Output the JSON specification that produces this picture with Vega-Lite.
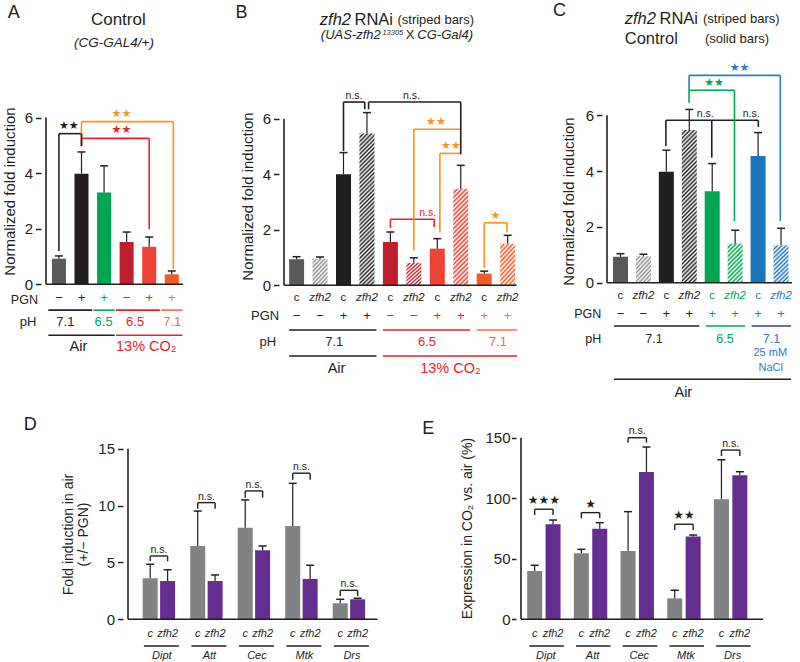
{
"$schema": "https://vega.github.io/schema/vega-lite/v6.json",
"background": "white",
"padding": {"left": 2, "top": 1, "right": 0, "bottom": 0},
"config": {"font": "Liberation Sans", "view": {"stroke": null}},
"datasets": {
"A_bars": [
{"i":1,"cond":"air_nopgn","mean":0.92,"hi":1.02,"pgn":"−"},
{"i":2,"cond":"air","mean":3.98,"hi":4.76,"pgn":"+"},
{"i":3,"cond":"ph65","mean":3.30,"hi":4.26,"pgn":"+"},
{"i":4,"cond":"co2_nopgn","mean":1.52,"hi":1.88,"pgn":"−"},
{"i":5,"cond":"co2","mean":1.35,"hi":1.70,"pgn":"+"},
{"i":6,"cond":"co2ph71","mean":0.36,"hi":0.48,"pgn":"+"}],
"A_h": [
{"a":2,"b":6.07,"y":5.85,"cond":"cmp"},
{"a":2,"b":5,"y":5.25,"cond":"co2"},
{"a":1,"b":2,"y":5.42,"cond":"air"}],
"A_v": [
{"x":2,"lo":5.25,"hi":5.85,"cond":"cmp"},
{"x":6.07,"lo":0.55,"hi":5.85,"cond":"cmp"},
{"x":2,"lo":4.97,"hi":5.25,"cond":"co2"},
{"x":5,"lo":1.98,"hi":5.25,"cond":"co2"},
{"x":1,"lo":1.2,"hi":5.42,"cond":"air"},
{"x":2,"lo":4.97,"hi":5.42,"cond":"air"}],
"A_lab": [
{"lx":1.437,"ly":5.42,"lab":"★★","cond":"air"},
{"lx":3.767,"ly":5.25,"lab":"★★","cond":"co2"},
{"lx":3.767,"ly":5.85,"lab":"★★","cond":"cmp"}],
"A_sp": [
{"a":1,"b":2,"lvl":1,"cond":"air"},{"a":3,"b":3,"lvl":1,"cond":"ph65"},{"a":4,"b":5,"lvl":1,"cond":"co2"},{"a":6,"b":6,"lvl":1,"cond":"co2ph71"},
{"a":1,"b":3,"lvl":2,"cond":"air"},{"a":4,"b":6,"lvl":2,"cond":"co2"}],
"A_ph": [{"lx":1.284,"lab":"7.1","cond":"air"},{"lx":2.98,"lab":"6.5","cond":"ph65"},{"lx":4.374,"lab":"6.5","cond":"co2"},{"lx":6.02,"lab":"7.1","cond":"co2ph71"}],
"A_env": [{"lx":1.862,"lab":"Air","cond":"air"},{"lx":4.87,"lab":"13% CO₂","cond":"co2"}],
"B_bars": [
{"i":1,"cond":"air_nopgn","geno":"c","mean":0.94,"hi":1.03,"pgn":"−"},
{"i":2,"cond":"air_nopgn","geno":"zfh2","mean":0.95,"hi":1.02,"pgn":"−"},
{"i":3,"cond":"air","geno":"c","mean":4.00,"hi":4.78,"pgn":"+"},
{"i":4,"cond":"air","geno":"zfh2","mean":5.47,"hi":6.22,"pgn":"+"},
{"i":5,"cond":"co2_nopgn","geno":"c","mean":1.56,"hi":1.92,"pgn":"−"},
{"i":6,"cond":"co2_nopgn","geno":"zfh2","mean":0.81,"hi":0.99,"pgn":"−"},
{"i":7,"cond":"co2","geno":"c","mean":1.32,"hi":1.68,"pgn":"+"},
{"i":8,"cond":"co2","geno":"zfh2","mean":3.48,"hi":4.32,"pgn":"+"},
{"i":9,"cond":"co2ph71","geno":"c","mean":0.42,"hi":0.51,"pgn":"+"},
{"i":10,"cond":"co2ph71","geno":"zfh2","mean":1.50,"hi":1.80,"pgn":"+"}],
"B_h": [
{"a":3,"b":3.905,"y":6.6,"cond":"air"},
{"a":4.07,"b":8,"y":6.6,"cond":"air"},
{"a":6,"b":8,"y":5.62,"cond":"cmp"},
{"a":7.11,"b":8,"y":4.75,"cond":"cmp"},
{"a":5,"b":6.87,"y":2.38,"cond":"co2"},
{"a":9,"b":9.97,"y":2.25,"cond":"cmp"}],
"B_v": [
{"x":6,"lo":1.24,"hi":5.62,"cond":"cmp"},
{"x":7.11,"lo":1.9,"hi":4.75,"cond":"cmp"},
{"x":9,"lo":0.63,"hi":2.25,"cond":"cmp"},
{"x":9.97,"lo":1.9,"hi":2.25,"cond":"cmp"},
{"x":5,"lo":2.07,"hi":2.38,"cond":"co2"},
{"x":6.87,"lo":2.1,"hi":2.38,"cond":"co2"},
{"x":3,"lo":4.84,"hi":6.6,"cond":"air"},
{"x":3.905,"lo":6.34,"hi":6.6,"cond":"air"},
{"x":4.07,"lo":6.34,"hi":6.6,"cond":"air"},
{"x":8,"lo":4.72,"hi":6.6,"cond":"air"}],
"B_lab": [
{"lx":3.45,"ly":6.6,"lab":"n.s.","cond":"air"},
{"lx":5.9,"ly":6.6,"lab":"n.s.","cond":"air"},
{"lx":6.94,"ly":5.62,"lab":"★★","cond":"cmp"},
{"lx":7.58,"ly":4.75,"lab":"★★","cond":"cmp"},
{"lx":6.59,"ly":2.38,"lab":"n.s.","cond":"co2"},
{"lx":9.48,"ly":2.25,"lab":"★","cond":"cmp"}],
"B_sp": [
{"a":1,"b":4,"lvl":1,"cond":"air"},{"a":5,"b":8,"lvl":1,"cond":"co2"},{"a":9,"b":10,"lvl":1,"cond":"co2ph71"},
{"a":1,"b":4,"lvl":2,"cond":"air"},{"a":5,"b":10,"lvl":2,"cond":"co2"}],
"B_ph": [{"lx":2.603,"lab":"7.1","cond":"air"},{"lx":6.558,"lab":"6.5","cond":"co2"},{"lx":9.587,"lab":"7.1","cond":"co2ph71"}],
"B_env": [{"lx":2.702,"lab":"Air","cond":"air"},{"lx":7.558,"lab":"13% CO₂","cond":"co2"}],
"C_bars": [
{"i":1,"cond":"air_nopgn","geno":"c","mean":0.93,"hi":1.04,"pgn":"−"},
{"i":2,"cond":"air_nopgn","geno":"zfh2","mean":0.95,"hi":1.02,"pgn":"−"},
{"i":3,"cond":"air","geno":"c","mean":3.98,"hi":4.75,"pgn":"+"},
{"i":4,"cond":"air","geno":"zfh2","mean":5.47,"hi":6.21,"pgn":"+"},
{"i":5,"cond":"ph65","geno":"c","mean":3.28,"hi":4.27,"pgn":"+"},
{"i":6,"cond":"ph65","geno":"zfh2","mean":1.40,"hi":1.88,"pgn":"+"},
{"i":7,"cond":"nacl","geno":"c","mean":4.54,"hi":5.38,"pgn":"+"},
{"i":8,"cond":"nacl","geno":"zfh2","mean":1.34,"hi":1.95,"pgn":"+"}],
"C_h": [
{"a":3.99,"b":7.97,"y":7.43,"cond":"nacl"},
{"a":3.99,"b":5.97,"y":6.9,"cond":"ph65"},
{"a":2.98,"b":7.01,"y":5.82,"cond":"air"}],
"C_v": [
{"x":3.99,"lo":6.9,"hi":7.43,"cond":"nacl"},
{"x":7.97,"lo":2.21,"hi":7.43,"cond":"nacl"},
{"x":3.99,"lo":6.45,"hi":6.9,"cond":"ph65"},
{"x":5.97,"lo":2.21,"hi":6.9,"cond":"ph65"},
{"x":2.98,"lo":4.9,"hi":5.82,"cond":"air"},
{"x":4.98,"lo":4.48,"hi":5.82,"cond":"air"},
{"x":7.01,"lo":5.58,"hi":5.82,"cond":"air"}],
"C_lab": [
{"lx":4.70,"ly":5.82,"lab":"n.s.","cond":"air"},
{"lx":6.70,"ly":5.82,"lab":"n.s.","cond":"air"},
{"lx":5.08,"ly":6.9,"lab":"★★","cond":"ph65"},
{"lx":6.19,"ly":7.43,"lab":"★★","cond":"nacl"}],
"C_sp": [
{"a":1,"b":4,"lvl":1,"cond":"air"},{"a":5,"b":6,"lvl":1,"cond":"ph65"},{"a":7,"b":8,"lvl":1,"cond":"naclbar"},
{"a":1,"b":8,"lvl":2,"cond":"air"}],
"C_ph": [{"lx":2.461,"lab":"7.1","cond":"air"},{"lx":5.553,"lab":"6.5","cond":"ph65"},{"lx":7.585,"lab":"7.1","cond":"nacl"}],
"D_bars": [
{"g":1,"gene":"Dipt","geno":"c","mean":3.61,"hi":4.84},
{"g":1,"gene":"Dipt","geno":"zfh2","mean":3.37,"hi":4.36},
{"g":2,"gene":"Att","geno":"c","mean":6.45,"hi":9.52},
{"g":2,"gene":"Att","geno":"zfh2","mean":3.37,"hi":3.9},
{"g":3,"gene":"Cec","geno":"c","mean":8.06,"hi":10.5},
{"g":3,"gene":"Cec","geno":"zfh2","mean":6.07,"hi":6.45},
{"g":4,"gene":"Mtk","geno":"c","mean":8.2,"hi":11.96},
{"g":4,"gene":"Mtk","geno":"zfh2","mean":3.55,"hi":4.75},
{"g":5,"gene":"Drs","geno":"c","mean":1.41,"hi":1.76},
{"g":5,"gene":"Drs","geno":"zfh2","mean":1.76,"hi":1.85}],
"D_sig": [
{"g":1,"y":5.57,"lo":5.1,"lab":"n.s."},
{"g":2,"y":10.26,"lo":9.73,"lab":"n.s."},
{"g":3,"y":11.29,"lo":10.7,"lab":"n.s."},
{"g":4,"y":12.85,"lo":12.27,"lab":"n.s."},
{"g":5,"y":2.55,"lo":2.05,"lab":"n.s."}],
"E_bars": [
{"g":1,"gene":"Dipt","geno":"c","mean":39.9,"hi":44.6},
{"g":1,"gene":"Dipt","geno":"zfh2","mean":78.5,"hi":82.0},
{"g":2,"gene":"Att","geno":"c","mean":54.5,"hi":57.8},
{"g":2,"gene":"Att","geno":"zfh2","mean":74.8,"hi":79.8},
{"g":3,"gene":"Cec","geno":"c","mean":56.4,"hi":88.9},
{"g":3,"gene":"Cec","geno":"zfh2","mean":121.7,"hi":142.3},
{"g":4,"gene":"Mtk","geno":"c","mean":17.3,"hi":24.0},
{"g":4,"gene":"Mtk","geno":"zfh2","mean":68.3,"hi":69.6},
{"g":5,"gene":"Drs","geno":"c","mean":99.1,"hi":131.8},
{"g":5,"gene":"Drs","geno":"zfh2","mean":118.9,"hi":121.9}],
"E_sig": [
{"g":1,"y":90.9,"lo":86.1,"lab":"★★★"},
{"g":2,"y":88.1,"lo":83.4,"lab":"★"},
{"g":3,"y":150,"lo":145.9,"lab":"n.s."},
{"g":4,"y":78.5,"lo":73.8,"lab":"★★"},
{"g":5,"y":139.8,"lo":134.9,"lab":"n.s."}]
},
"spacing": 320,
"bounds": "flush",
"vconcat": [
{"spacing": 0, "bounds": "flush", "hconcat": [
{"width": 238, "height": 180, "layer": [
{"data":{"name":"A_bars"},"mark":{"type":"bar","width":14},"encoding":{
"x":{"field":"i","type":"quantitative","scale":{"domain":[0.427,10.529],"nice":false,"zero":false},"axis":null},
"y":{"field":"mean","type":"quantitative","scale":{"domain":[-0.241,6.234],"nice":false,"zero":false},"axis":{"values":[0,2,4,6],"title":"Normalized fold induction","domain":false,"grid":false,"tickSize":5.5,"tickWidth":1.5,"tickColor":"#231f20","labelFontSize":15,"labelPadding":3,"labelColor":"#231f20","titleFontSize":15,"titleFontWeight":"normal","titleColor":"#231f20","titlePadding":7,"titleY":80}},
"y2":{"datum":0},
"fill":{"field":"cond","type":"nominal","scale":{"domain":["air_nopgn","air","ph65","co2_nopgn","co2","co2ph71","nacl"],"range":["#58595b","#231f20","#00a651","#be1e2d","#ef4136","#f15a29","#1c75bc"]},"legend":null}}},
{"data":{"name":"A_bars"},"mark":{"type":"rule","color":"#231f20","strokeWidth":1.2},"encoding":{"x":{"field":"i","type":"quantitative","axis":null},"y":{"field":"mean","type":"quantitative"},"y2":{"field":"hi"}}},
{"data":{"name":"A_bars"},"mark":{"type":"rule","color":"#231f20","strokeWidth":1.5,"xOffset":-4,"x2Offset":4},"encoding":{"x":{"field":"i","type":"quantitative","axis":null},"x2":{"field":"i"},"y":{"field":"hi","type":"quantitative"}}},
{"data":{"name":"A_h"},"mark":{"type":"rule","strokeWidth":1.6},"encoding":{"x":{"field":"a","type":"quantitative","axis":null},"x2":{"field":"b"},"y":{"field":"y","type":"quantitative"},"color":{"field":"cond","type":"nominal","scale":{"domain":["air_nopgn","air","ph65","co2_nopgn","co2","co2ph71","nacl","naclbar","cmp"],"range":["#231f20","#231f20","#00a651","#e2232e","#e2232e","#f26c4f","#2b7bc0","#3d3f98","#f7941d"]},"legend":null}}},
{"data":{"name":"A_v"},"mark":{"type":"rule","strokeWidth":1.6},"encoding":{"x":{"field":"x","type":"quantitative","axis":null},"y":{"field":"lo","type":"quantitative"},"y2":{"field":"hi"},"color":{"field":"cond","type":"nominal","legend":null}}},
{"data":{"name":"A_lab"},"mark":{"type":"text","font":"DejaVu Sans","fontSize":11,"baseline":"middle","dy":-8},"encoding":{"x":{"field":"lx","type":"quantitative","axis":null},"y":{"field":"ly","type":"quantitative"},"text":{"field":"lab"},"color":{"field":"cond","type":"nominal","legend":null}}},
{"data":{"name":"A_bars"},"mark":{"type":"text","fontSize":13,"baseline":"middle"},"encoding":{"x":{"field":"i","type":"quantitative","axis":null},"y":{"datum":-0.48,"type":"quantitative"},"text":{"field":"pgn"},"color":{"field":"cond","type":"nominal","legend":null}}},
{"data":{"name":"A_sp"},"transform":[{"filter":"datum.lvl==1"}],"mark":{"type":"rule","strokeWidth":1.6,"xOffset":-10.6,"x2Offset":10.6},"encoding":{"x":{"field":"a","type":"quantitative","axis":null},"x2":{"field":"b"},"y":{"datum":-0.93,"type":"quantitative"},"color":{"field":"cond","type":"nominal","legend":null}}},
{"data":{"name":"A_sp"},"transform":[{"filter":"datum.lvl==2"}],"mark":{"type":"rule","strokeWidth":1.6,"xOffset":-10.6,"x2Offset":10.6},"encoding":{"x":{"field":"a","type":"quantitative","axis":null},"x2":{"field":"b"},"y":{"datum":-1.835,"type":"quantitative"},"color":{"field":"cond","type":"nominal","legend":null}}},
{"data":{"name":"A_ph"},"mark":{"type":"text","fontSize":13,"baseline":"middle"},"encoding":{"x":{"field":"lx","type":"quantitative","axis":null},"y":{"datum":-1.36,"type":"quantitative"},"text":{"field":"lab"},"color":{"field":"cond","type":"nominal","legend":null}}},
{"data":{"name":"A_env"},"mark":{"type":"text","fontSize":14.5,"baseline":"middle"},"encoding":{"x":{"field":"lx","type":"quantitative","axis":null},"y":{"datum":-2.255,"type":"quantitative"},"text":{"field":"lab"},"color":{"field":"cond","type":"nominal","legend":null}}},
{"data":{"values":[{}]},"mark":{"type":"text","fontSize":12.5,"align":"right","baseline":"middle","color":"#231f20"},"encoding":{"x":{"datum":0.07,"type":"quantitative","axis":null},"y":{"datum":-0.56,"type":"quantitative"},"text":{"value":"PGN"}}},
{"data":{"values":[{}]},"mark":{"type":"text","fontSize":13,"align":"right","baseline":"middle","color":"#231f20"},"encoding":{"x":{"datum":0.0,"type":"quantitative","axis":null},"y":{"datum":-1.36,"type":"quantitative"},"text":{"value":"pH"}}},
{"data":{"values":[{}]},"mark":{"type":"rule","color":"#231f20","strokeWidth":1.6},"encoding":{"x":{"datum":0.427,"type":"quantitative","axis":null},"y":{"datum":0,"type":"quantitative"},"y2":{"datum":6}}},
{"data":{"values":[{}]},"mark":{"type":"rule","color":"#231f20","strokeWidth":1.6},"encoding":{"x":{"datum":0.427,"type":"quantitative","axis":null},"x2":{"datum":6.497},"y":{"datum":0,"type":"quantitative"}}},
{"data":{"values":[{}]},"mark":{"type":"text","fontSize":18,"align":"left","baseline":"middle","color":"#231f20"},"encoding":{"x":{"datum":-1.271,"type":"quantitative","axis":null},"y":{"datum":9.76,"type":"quantitative"},"text":{"value":"A"}}},
{"data":{"values":[{}]},"mark":{"type":"text","fontSize":17,"align":"center","baseline":"middle","color":"#231f20"},"encoding":{"x":{"datum":3.632,"type":"quantitative","axis":null},"y":{"datum":9.507,"type":"quantitative"},"text":{"value":"Control"}}},
{"data":{"values":[{}]},"mark":{"type":"text","fontSize":13.5,"fontStyle":"italic","align":"center","baseline":"middle","color":"#231f20"},"encoding":{"x":{"datum":3.441,"type":"quantitative","axis":null},"y":{"datum":8.69,"type":"quantitative"},"text":{"value":"(CG-GAL4/+)"}}}
]},
{"width": 323, "height": 180, "layer": [
{"data":{"name":"B_bars"},"transform":[{"filter":"datum.geno=='c'"}],"mark":{"type":"bar","width":15},"encoding":{
"x":{"field":"i","type":"quantitative","scale":{"domain":[0.4628,13.81],"nice":false,"zero":false},"axis":null},
"y":{"field":"mean","type":"quantitative","scale":{"domain":[-0.205,6.277],"nice":false,"zero":false},"axis":{"values":[0,2,4,6],"title":"Normalized fold induction","domain":false,"grid":false,"tickSize":5.5,"tickWidth":1.5,"tickColor":"#231f20","labelFontSize":15,"labelPadding":3,"labelColor":"#231f20","titleFontSize":15,"titleFontWeight":"normal","titleColor":"#231f20","titlePadding":7,"titleY":85}},
"y2":{"datum":0},
"fill":{"field":"cond","type":"nominal","scale":{"domain":["air_nopgn","air","ph65","co2_nopgn","co2","co2ph71","nacl"],"range":["#58595b","#231f20","#00a651","#be1e2d","#ef4136","#f15a29","#1c75bc"]},"legend":null}}},
{"data":{"name":"B_bars"},"transform":[{"filter":"datum.i==2"}],"mark":{"type":"bar","width":15,"fill":{"gradient":"linear","x1":0,"y1":0,"x2":0.706,"y2":1.176,"stops":[{"offset":0,"color":"#8c8c8e"},{"offset":0.05,"color":"#fff"},{"offset":0.1,"color":"#8c8c8e"},{"offset":0.15,"color":"#fff"},{"offset":0.2,"color":"#8c8c8e"},{"offset":0.25,"color":"#fff"},{"offset":0.3,"color":"#8c8c8e"},{"offset":0.35,"color":"#fff"},{"offset":0.4,"color":"#8c8c8e"},{"offset":0.45,"color":"#fff"},{"offset":0.5,"color":"#8c8c8e"},{"offset":0.55,"color":"#fff"},{"offset":0.6,"color":"#8c8c8e"},{"offset":0.65,"color":"#fff"},{"offset":0.7,"color":"#8c8c8e"},{"offset":0.75,"color":"#fff"},{"offset":0.8,"color":"#8c8c8e"},{"offset":0.85,"color":"#fff"},{"offset":0.9,"color":"#8c8c8e"},{"offset":0.95,"color":"#fff"},{"offset":1,"color":"#8c8c8e"}]}},"encoding":{"x":{"field":"i","type":"quantitative","axis":null},"y":{"field":"mean","type":"quantitative"},"y2":{"datum":0}}},
{"data":{"name":"B_bars"},"transform":[{"filter":"datum.i==4"}],"mark":{"type":"bar","width":15,"fill":{"gradient":"linear","x1":0,"y1":0,"x2":0.1074,"y2":1.0881,"stops":[{"offset":0,"color":"#231f20"},{"offset":0.0125,"color":"#fff"},{"offset":0.025,"color":"#231f20"},{"offset":0.0375,"color":"#fff"},{"offset":0.05,"color":"#231f20"},{"offset":0.0625,"color":"#fff"},{"offset":0.075,"color":"#231f20"},{"offset":0.0875,"color":"#fff"},{"offset":0.1,"color":"#231f20"},{"offset":0.1125,"color":"#fff"},{"offset":0.125,"color":"#231f20"},{"offset":0.1375,"color":"#fff"},{"offset":0.15,"color":"#231f20"},{"offset":0.1625,"color":"#fff"},{"offset":0.175,"color":"#231f20"},{"offset":0.1875,"color":"#fff"},{"offset":0.2,"color":"#231f20"},{"offset":0.2125,"color":"#fff"},{"offset":0.225,"color":"#231f20"},{"offset":0.2375,"color":"#fff"},{"offset":0.25,"color":"#231f20"},{"offset":0.2625,"color":"#fff"},{"offset":0.275,"color":"#231f20"},{"offset":0.2875,"color":"#fff"},{"offset":0.3,"color":"#231f20"},{"offset":0.3125,"color":"#fff"},{"offset":0.325,"color":"#231f20"},{"offset":0.3375,"color":"#fff"},{"offset":0.35,"color":"#231f20"},{"offset":0.3625,"color":"#fff"},{"offset":0.375,"color":"#231f20"},{"offset":0.3875,"color":"#fff"},{"offset":0.4,"color":"#231f20"},{"offset":0.4125,"color":"#fff"},{"offset":0.425,"color":"#231f20"},{"offset":0.4375,"color":"#fff"},{"offset":0.45,"color":"#231f20"},{"offset":0.4625,"color":"#fff"},{"offset":0.475,"color":"#231f20"},{"offset":0.4875,"color":"#fff"},{"offset":0.5,"color":"#231f20"},{"offset":0.5125,"color":"#fff"},{"offset":0.525,"color":"#231f20"},{"offset":0.5375,"color":"#fff"},{"offset":0.55,"color":"#231f20"},{"offset":0.5625,"color":"#fff"},{"offset":0.575,"color":"#231f20"},{"offset":0.5875,"color":"#fff"},{"offset":0.6,"color":"#231f20"},{"offset":0.6125,"color":"#fff"},{"offset":0.625,"color":"#231f20"},{"offset":0.6375,"color":"#fff"},{"offset":0.65,"color":"#231f20"},{"offset":0.6625,"color":"#fff"},{"offset":0.675,"color":"#231f20"},{"offset":0.6875,"color":"#fff"},{"offset":0.7,"color":"#231f20"},{"offset":0.7125,"color":"#fff"},{"offset":0.725,"color":"#231f20"},{"offset":0.7375,"color":"#fff"},{"offset":0.75,"color":"#231f20"},{"offset":0.7625,"color":"#fff"},{"offset":0.775,"color":"#231f20"},{"offset":0.7875,"color":"#fff"},{"offset":0.8,"color":"#231f20"},{"offset":0.8125,"color":"#fff"},{"offset":0.825,"color":"#231f20"},{"offset":0.8375,"color":"#fff"},{"offset":0.85,"color":"#231f20"},{"offset":0.8625,"color":"#fff"},{"offset":0.875,"color":"#231f20"},{"offset":0.8875,"color":"#fff"},{"offset":0.9,"color":"#231f20"},{"offset":0.9125,"color":"#fff"},{"offset":0.925,"color":"#231f20"},{"offset":0.9375,"color":"#fff"},{"offset":0.95,"color":"#231f20"},{"offset":0.9625,"color":"#fff"},{"offset":0.975,"color":"#231f20"},{"offset":0.9875,"color":"#fff"},{"offset":1,"color":"#231f20"}]}},"encoding":{"x":{"field":"i","type":"quantitative","axis":null},"y":{"field":"mean","type":"quantitative"},"y2":{"datum":0}}},
{"data":{"name":"B_bars"},"transform":[{"filter":"datum.i==6"}],"mark":{"type":"bar","width":15,"fill":{"gradient":"linear","x1":0,"y1":0,"x2":0.706,"y2":1.176,"stops":[{"offset":0,"color":"#be1e2d"},{"offset":0.05,"color":"#fff"},{"offset":0.1,"color":"#be1e2d"},{"offset":0.15,"color":"#fff"},{"offset":0.2,"color":"#be1e2d"},{"offset":0.25,"color":"#fff"},{"offset":0.3,"color":"#be1e2d"},{"offset":0.35,"color":"#fff"},{"offset":0.4,"color":"#be1e2d"},{"offset":0.45,"color":"#fff"},{"offset":0.5,"color":"#be1e2d"},{"offset":0.55,"color":"#fff"},{"offset":0.6,"color":"#be1e2d"},{"offset":0.65,"color":"#fff"},{"offset":0.7,"color":"#be1e2d"},{"offset":0.75,"color":"#fff"},{"offset":0.8,"color":"#be1e2d"},{"offset":0.85,"color":"#fff"},{"offset":0.9,"color":"#be1e2d"},{"offset":0.95,"color":"#fff"},{"offset":1,"color":"#be1e2d"}]}},"encoding":{"x":{"field":"i","type":"quantitative","axis":null},"y":{"field":"mean","type":"quantitative"},"y2":{"datum":0}}},
{"data":{"name":"B_bars"},"transform":[{"filter":"datum.i==8"}],"mark":{"type":"bar","width":15,"fill":{"gradient":"linear","x1":0,"y1":0,"x2":0.1744,"y2":1.1277,"stops":[{"offset":0,"color":"#ef4136"},{"offset":0.02,"color":"#fff"},{"offset":0.04,"color":"#ef4136"},{"offset":0.06,"color":"#fff"},{"offset":0.08,"color":"#ef4136"},{"offset":0.1,"color":"#fff"},{"offset":0.12,"color":"#ef4136"},{"offset":0.14,"color":"#fff"},{"offset":0.16,"color":"#ef4136"},{"offset":0.18,"color":"#fff"},{"offset":0.2,"color":"#ef4136"},{"offset":0.22,"color":"#fff"},{"offset":0.24,"color":"#ef4136"},{"offset":0.26,"color":"#fff"},{"offset":0.28,"color":"#ef4136"},{"offset":0.3,"color":"#fff"},{"offset":0.32,"color":"#ef4136"},{"offset":0.34,"color":"#fff"},{"offset":0.36,"color":"#ef4136"},{"offset":0.38,"color":"#fff"},{"offset":0.4,"color":"#ef4136"},{"offset":0.42,"color":"#fff"},{"offset":0.44,"color":"#ef4136"},{"offset":0.46,"color":"#fff"},{"offset":0.48,"color":"#ef4136"},{"offset":0.5,"color":"#fff"},{"offset":0.52,"color":"#ef4136"},{"offset":0.54,"color":"#fff"},{"offset":0.56,"color":"#ef4136"},{"offset":0.58,"color":"#fff"},{"offset":0.6,"color":"#ef4136"},{"offset":0.62,"color":"#fff"},{"offset":0.64,"color":"#ef4136"},{"offset":0.66,"color":"#fff"},{"offset":0.68,"color":"#ef4136"},{"offset":0.7,"color":"#fff"},{"offset":0.72,"color":"#ef4136"},{"offset":0.74,"color":"#fff"},{"offset":0.76,"color":"#ef4136"},{"offset":0.78,"color":"#fff"},{"offset":0.8,"color":"#ef4136"},{"offset":0.82,"color":"#fff"},{"offset":0.84,"color":"#ef4136"},{"offset":0.86,"color":"#fff"},{"offset":0.88,"color":"#ef4136"},{"offset":0.9,"color":"#fff"},{"offset":0.92,"color":"#ef4136"},{"offset":0.94,"color":"#fff"},{"offset":0.96,"color":"#ef4136"},{"offset":0.98,"color":"#fff"},{"offset":1,"color":"#ef4136"}]}},"encoding":{"x":{"field":"i","type":"quantitative","axis":null},"y":{"field":"mean","type":"quantitative"},"y2":{"datum":0}}},
{"data":{"name":"B_bars"},"transform":[{"filter":"datum.i==10"}],"mark":{"type":"bar","width":15,"fill":{"gradient":"linear","x1":0,"y1":0,"x2":0.464,"y2":1.206,"stops":[{"offset":0,"color":"#f15a29"},{"offset":0.04,"color":"#fff"},{"offset":0.08,"color":"#f15a29"},{"offset":0.12,"color":"#fff"},{"offset":0.16,"color":"#f15a29"},{"offset":0.2,"color":"#fff"},{"offset":0.24,"color":"#f15a29"},{"offset":0.28,"color":"#fff"},{"offset":0.32,"color":"#f15a29"},{"offset":0.36,"color":"#fff"},{"offset":0.4,"color":"#f15a29"},{"offset":0.44,"color":"#fff"},{"offset":0.48,"color":"#f15a29"},{"offset":0.52,"color":"#fff"},{"offset":0.56,"color":"#f15a29"},{"offset":0.6,"color":"#fff"},{"offset":0.64,"color":"#f15a29"},{"offset":0.68,"color":"#fff"},{"offset":0.72,"color":"#f15a29"},{"offset":0.76,"color":"#fff"},{"offset":0.8,"color":"#f15a29"},{"offset":0.84,"color":"#fff"},{"offset":0.88,"color":"#f15a29"},{"offset":0.92,"color":"#fff"},{"offset":0.96,"color":"#f15a29"},{"offset":1,"color":"#fff"}]}},"encoding":{"x":{"field":"i","type":"quantitative","axis":null},"y":{"field":"mean","type":"quantitative"},"y2":{"datum":0}}},
{"data":{"name":"B_bars"},"mark":{"type":"rule","color":"#231f20","strokeWidth":1.2},"encoding":{"x":{"field":"i","type":"quantitative","axis":null},"y":{"field":"mean","type":"quantitative"},"y2":{"field":"hi"}}},
{"data":{"name":"B_bars"},"mark":{"type":"rule","color":"#231f20","strokeWidth":1.5,"xOffset":-4,"x2Offset":4},"encoding":{"x":{"field":"i","type":"quantitative","axis":null},"x2":{"field":"i"},"y":{"field":"hi","type":"quantitative"}}},
{"data":{"name":"B_h"},"mark":{"type":"rule","strokeWidth":1.6},"encoding":{"x":{"field":"a","type":"quantitative","axis":null},"x2":{"field":"b"},"y":{"field":"y","type":"quantitative"},"color":{"field":"cond","type":"nominal","legend":null}}},
{"data":{"name":"B_v"},"mark":{"type":"rule","strokeWidth":1.6},"encoding":{"x":{"field":"x","type":"quantitative","axis":null},"y":{"field":"lo","type":"quantitative"},"y2":{"field":"hi"},"color":{"field":"cond","type":"nominal","legend":null}}},
{"data":{"name":"B_lab"},"transform":[{"filter":"datum.lab=='n.s.'"}],"mark":{"type":"text","font":"Liberation Sans","fontSize":10.5,"baseline":"middle","dy":-6},"encoding":{"x":{"field":"lx","type":"quantitative","axis":null},"y":{"field":"ly","type":"quantitative"},"text":{"field":"lab"},"color":{"field":"cond","type":"nominal","legend":null}}},
{"data":{"name":"B_lab"},"transform":[{"filter":"datum.lab!='n.s.'"}],"mark":{"type":"text","font":"DejaVu Sans","fontSize":11,"baseline":"middle","dy":-7},"encoding":{"x":{"field":"lx","type":"quantitative","axis":null},"y":{"field":"ly","type":"quantitative"},"text":{"field":"lab"},"color":{"field":"cond","type":"nominal","legend":null}}},
{"data":{"name":"B_bars"},"transform":[{"filter":"datum.geno=='c'"}],"mark":{"type":"text","fontSize":11.5,"baseline":"middle","color":"#231f20"},"encoding":{"x":{"field":"i","type":"quantitative","axis":null},"y":{"datum":-0.468,"type":"quantitative"},"text":{"field":"geno"}}},
{"data":{"name":"B_bars"},"transform":[{"filter":"datum.geno=='zfh2'"}],"mark":{"type":"text","fontSize":11.5,"fontStyle":"italic","baseline":"middle","color":"#231f20"},"encoding":{"x":{"field":"i","type":"quantitative","axis":null},"y":{"datum":-0.468,"type":"quantitative"},"text":{"field":"geno"}}},
{"data":{"name":"B_bars"},"mark":{"type":"text","fontSize":13,"baseline":"middle"},"encoding":{"x":{"field":"i","type":"quantitative","axis":null},"y":{"datum":-1.105,"type":"quantitative"},"text":{"field":"pgn"},"color":{"field":"cond","type":"nominal","legend":null}}},
{"data":{"name":"B_sp"},"transform":[{"filter":"datum.lvl==1"}],"mark":{"type":"rule","strokeWidth":1.6,"xOffset":-7.5,"x2Offset":9.5},"encoding":{"x":{"field":"a","type":"quantitative","axis":null},"x2":{"field":"b"},"y":{"datum":-1.61,"type":"quantitative"},"color":{"field":"cond","type":"nominal","legend":null}}},
{"data":{"name":"B_sp"},"transform":[{"filter":"datum.lvl==2"}],"mark":{"type":"rule","strokeWidth":1.6,"xOffset":-7.5,"x2Offset":9.5},"encoding":{"x":{"field":"a","type":"quantitative","axis":null},"x2":{"field":"b"},"y":{"datum":-2.546,"type":"quantitative"},"color":{"field":"cond","type":"nominal","legend":null}}},
{"data":{"name":"B_ph"},"mark":{"type":"text","fontSize":13,"baseline":"middle"},"encoding":{"x":{"field":"lx","type":"quantitative","axis":null},"y":{"datum":-2.04,"type":"quantitative"},"text":{"field":"lab"},"color":{"field":"cond","type":"nominal","legend":null}}},
{"data":{"name":"B_env"},"mark":{"type":"text","fontSize":14.5,"baseline":"middle"},"encoding":{"x":{"field":"lx","type":"quantitative","axis":null},"y":{"datum":-3.025,"type":"quantitative"},"text":{"field":"lab"},"color":{"field":"cond","type":"nominal","legend":null}}},
{"data":{"values":[{}]},"mark":{"type":"text","fontSize":13,"align":"right","baseline":"middle","color":"#231f20"},"encoding":{"x":{"datum":0.256,"type":"quantitative","axis":null},"y":{"datum":-1.105,"type":"quantitative"},"text":{"value":"PGN"}}},
{"data":{"values":[{}]},"mark":{"type":"text","fontSize":13,"align":"right","baseline":"middle","color":"#231f20"},"encoding":{"x":{"datum":0.132,"type":"quantitative","axis":null},"y":{"datum":-2.04,"type":"quantitative"},"text":{"value":"pH"}}},
{"data":{"values":[{}]},"mark":{"type":"rule","color":"#231f20","strokeWidth":1.6},"encoding":{"x":{"datum":0.4628,"type":"quantitative","axis":null},"y":{"datum":0,"type":"quantitative"},"y2":{"datum":6}}},
{"data":{"values":[{}]},"mark":{"type":"rule","color":"#231f20","strokeWidth":1.6},"encoding":{"x":{"datum":0.4628,"type":"quantitative","axis":null},"x2":{"datum":10.38},"y":{"datum":0,"type":"quantitative"}}},
{"data":{"values":[{}]},"mark":{"type":"text","fontSize":18,"align":"left","baseline":"middle","color":"#231f20"},"encoding":{"x":{"datum":-1.603,"type":"quantitative","axis":null},"y":{"datum":9.806,"type":"quantitative"},"text":{"value":"B"}}},
{"data":{"values":[{}]},"mark":{"type":"text","fontSize":16.5,"fontStyle":"italic","align":"left","baseline":"middle","color":"#231f20"},"encoding":{"x":{"datum":1.992,"type":"quantitative","axis":null},"y":{"datum":9.553,"type":"quantitative"},"text":{"value":"zfh2"}}},
{"data":{"values":[{}]},"mark":{"type":"text","fontSize":16.5,"align":"left","baseline":"middle","color":"#231f20"},"encoding":{"x":{"datum":3.47,"type":"quantitative","axis":null},"y":{"datum":9.553,"type":"quantitative"},"text":{"value":"RNAi"}}},
{"data":{"values":[{}]},"mark":{"type":"text","fontSize":13,"align":"left","baseline":"middle","color":"#231f20"},"encoding":{"x":{"datum":5.3,"type":"quantitative","axis":null},"y":{"datum":9.553,"type":"quantitative"},"text":{"value":"(striped bars)"}}},
{"data":{"values":[{}]},"mark":{"type":"text","fontSize":13,"fontStyle":"italic","align":"left","baseline":"middle","color":"#231f20"},"encoding":{"x":{"datum":2.033,"type":"quantitative","axis":null},"y":{"datum":9.0,"type":"quantitative"},"text":{"value":"(UAS-zfh2"}}},
{"data":{"values":[{}]},"mark":{"type":"text","fontSize":7.5,"fontStyle":"italic","align":"left","baseline":"middle","color":"#231f20"},"encoding":{"x":{"datum":4.66,"type":"quantitative","axis":null},"y":{"datum":9.1,"type":"quantitative"},"text":{"value":"13305"}}},
{"data":{"values":[{}]},"mark":{"type":"text","fontSize":13,"align":"left","baseline":"middle","color":"#231f20"},"encoding":{"x":{"datum":5.65,"type":"quantitative","axis":null},"y":{"datum":9.0,"type":"quantitative"},"text":{"value":"X"}}},
{"data":{"values":[{}]},"mark":{"type":"text","fontSize":13,"fontStyle":"italic","align":"left","baseline":"middle","color":"#231f20"},"encoding":{"x":{"datum":6.15,"type":"quantitative","axis":null},"y":{"datum":9.0,"type":"quantitative"},"text":{"value":"CG-Gal4)"}}}
]},
{"width": 197, "height": 180, "layer": [
{"data":{"name":"C_bars"},"transform":[{"filter":"datum.geno=='c'"}],"mark":{"type":"bar","width":15},"encoding":{
"x":{"field":"i","type":"quantitative","scale":{"domain":[0.4123,8.566],"nice":false,"zero":false},"axis":null},
"y":{"field":"mean","type":"quantitative","scale":{"domain":[-0.297,6.154],"nice":false,"zero":false},"axis":{"values":[0,2,4,6],"title":"Normalized fold induction","domain":false,"grid":false,"tickSize":5.5,"tickWidth":1.5,"tickColor":"#231f20","labelFontSize":15,"labelPadding":3,"labelColor":"#231f20","titleFontSize":15,"titleFontWeight":"normal","titleColor":"#231f20","titlePadding":9,"titleY":90}},
"y2":{"datum":0},
"fill":{"field":"cond","type":"nominal","scale":{"domain":["air_nopgn","air","ph65","co2_nopgn","co2","co2ph71","nacl"],"range":["#58595b","#231f20","#00a651","#be1e2d","#ef4136","#f15a29","#1c75bc"]},"legend":null}}},
{"data":{"name":"C_bars"},"transform":[{"filter":"datum.i==2"}],"mark":{"type":"bar","width":15,"fill":{"gradient":"linear","x1":0,"y1":0,"x2":0.706,"y2":1.176,"stops":[{"offset":0,"color":"#8c8c8e"},{"offset":0.05,"color":"#fff"},{"offset":0.1,"color":"#8c8c8e"},{"offset":0.15,"color":"#fff"},{"offset":0.2,"color":"#8c8c8e"},{"offset":0.25,"color":"#fff"},{"offset":0.3,"color":"#8c8c8e"},{"offset":0.35,"color":"#fff"},{"offset":0.4,"color":"#8c8c8e"},{"offset":0.45,"color":"#fff"},{"offset":0.5,"color":"#8c8c8e"},{"offset":0.55,"color":"#fff"},{"offset":0.6,"color":"#8c8c8e"},{"offset":0.65,"color":"#fff"},{"offset":0.7,"color":"#8c8c8e"},{"offset":0.75,"color":"#fff"},{"offset":0.8,"color":"#8c8c8e"},{"offset":0.85,"color":"#fff"},{"offset":0.9,"color":"#8c8c8e"},{"offset":0.95,"color":"#fff"},{"offset":1,"color":"#8c8c8e"}]}},"encoding":{"x":{"field":"i","type":"quantitative","axis":null},"y":{"field":"mean","type":"quantitative"},"y2":{"datum":0}}},
{"data":{"name":"C_bars"},"transform":[{"filter":"datum.i==4"}],"mark":{"type":"bar","width":15,"fill":{"gradient":"linear","x1":0,"y1":0,"x2":0.1074,"y2":1.0881,"stops":[{"offset":0,"color":"#231f20"},{"offset":0.0125,"color":"#fff"},{"offset":0.025,"color":"#231f20"},{"offset":0.0375,"color":"#fff"},{"offset":0.05,"color":"#231f20"},{"offset":0.0625,"color":"#fff"},{"offset":0.075,"color":"#231f20"},{"offset":0.0875,"color":"#fff"},{"offset":0.1,"color":"#231f20"},{"offset":0.1125,"color":"#fff"},{"offset":0.125,"color":"#231f20"},{"offset":0.1375,"color":"#fff"},{"offset":0.15,"color":"#231f20"},{"offset":0.1625,"color":"#fff"},{"offset":0.175,"color":"#231f20"},{"offset":0.1875,"color":"#fff"},{"offset":0.2,"color":"#231f20"},{"offset":0.2125,"color":"#fff"},{"offset":0.225,"color":"#231f20"},{"offset":0.2375,"color":"#fff"},{"offset":0.25,"color":"#231f20"},{"offset":0.2625,"color":"#fff"},{"offset":0.275,"color":"#231f20"},{"offset":0.2875,"color":"#fff"},{"offset":0.3,"color":"#231f20"},{"offset":0.3125,"color":"#fff"},{"offset":0.325,"color":"#231f20"},{"offset":0.3375,"color":"#fff"},{"offset":0.35,"color":"#231f20"},{"offset":0.3625,"color":"#fff"},{"offset":0.375,"color":"#231f20"},{"offset":0.3875,"color":"#fff"},{"offset":0.4,"color":"#231f20"},{"offset":0.4125,"color":"#fff"},{"offset":0.425,"color":"#231f20"},{"offset":0.4375,"color":"#fff"},{"offset":0.45,"color":"#231f20"},{"offset":0.4625,"color":"#fff"},{"offset":0.475,"color":"#231f20"},{"offset":0.4875,"color":"#fff"},{"offset":0.5,"color":"#231f20"},{"offset":0.5125,"color":"#fff"},{"offset":0.525,"color":"#231f20"},{"offset":0.5375,"color":"#fff"},{"offset":0.55,"color":"#231f20"},{"offset":0.5625,"color":"#fff"},{"offset":0.575,"color":"#231f20"},{"offset":0.5875,"color":"#fff"},{"offset":0.6,"color":"#231f20"},{"offset":0.6125,"color":"#fff"},{"offset":0.625,"color":"#231f20"},{"offset":0.6375,"color":"#fff"},{"offset":0.65,"color":"#231f20"},{"offset":0.6625,"color":"#fff"},{"offset":0.675,"color":"#231f20"},{"offset":0.6875,"color":"#fff"},{"offset":0.7,"color":"#231f20"},{"offset":0.7125,"color":"#fff"},{"offset":0.725,"color":"#231f20"},{"offset":0.7375,"color":"#fff"},{"offset":0.75,"color":"#231f20"},{"offset":0.7625,"color":"#fff"},{"offset":0.775,"color":"#231f20"},{"offset":0.7875,"color":"#fff"},{"offset":0.8,"color":"#231f20"},{"offset":0.8125,"color":"#fff"},{"offset":0.825,"color":"#231f20"},{"offset":0.8375,"color":"#fff"},{"offset":0.85,"color":"#231f20"},{"offset":0.8625,"color":"#fff"},{"offset":0.875,"color":"#231f20"},{"offset":0.8875,"color":"#fff"},{"offset":0.9,"color":"#231f20"},{"offset":0.9125,"color":"#fff"},{"offset":0.925,"color":"#231f20"},{"offset":0.9375,"color":"#fff"},{"offset":0.95,"color":"#231f20"},{"offset":0.9625,"color":"#fff"},{"offset":0.975,"color":"#231f20"},{"offset":0.9875,"color":"#fff"},{"offset":1,"color":"#231f20"}]}},"encoding":{"x":{"field":"i","type":"quantitative","axis":null},"y":{"field":"mean","type":"quantitative"},"y2":{"datum":0}}},
{"data":{"name":"C_bars"},"transform":[{"filter":"datum.i==6"}],"mark":{"type":"bar","width":15,"fill":{"gradient":"linear","x1":0,"y1":0,"x2":0.464,"y2":1.206,"stops":[{"offset":0,"color":"#00a651"},{"offset":0.04,"color":"#fff"},{"offset":0.08,"color":"#00a651"},{"offset":0.12,"color":"#fff"},{"offset":0.16,"color":"#00a651"},{"offset":0.2,"color":"#fff"},{"offset":0.24,"color":"#00a651"},{"offset":0.28,"color":"#fff"},{"offset":0.32,"color":"#00a651"},{"offset":0.36,"color":"#fff"},{"offset":0.4,"color":"#00a651"},{"offset":0.44,"color":"#fff"},{"offset":0.48,"color":"#00a651"},{"offset":0.52,"color":"#fff"},{"offset":0.56,"color":"#00a651"},{"offset":0.6,"color":"#fff"},{"offset":0.64,"color":"#00a651"},{"offset":0.68,"color":"#fff"},{"offset":0.72,"color":"#00a651"},{"offset":0.76,"color":"#fff"},{"offset":0.8,"color":"#00a651"},{"offset":0.84,"color":"#fff"},{"offset":0.88,"color":"#00a651"},{"offset":0.92,"color":"#fff"},{"offset":0.96,"color":"#00a651"},{"offset":1,"color":"#fff"}]}},"encoding":{"x":{"field":"i","type":"quantitative","axis":null},"y":{"field":"mean","type":"quantitative"},"y2":{"datum":0}}},
{"data":{"name":"C_bars"},"transform":[{"filter":"datum.i==8"}],"mark":{"type":"bar","width":15,"fill":{"gradient":"linear","x1":0,"y1":0,"x2":0.464,"y2":1.206,"stops":[{"offset":0,"color":"#1c75bc"},{"offset":0.04,"color":"#fff"},{"offset":0.08,"color":"#1c75bc"},{"offset":0.12,"color":"#fff"},{"offset":0.16,"color":"#1c75bc"},{"offset":0.2,"color":"#fff"},{"offset":0.24,"color":"#1c75bc"},{"offset":0.28,"color":"#fff"},{"offset":0.32,"color":"#1c75bc"},{"offset":0.36,"color":"#fff"},{"offset":0.4,"color":"#1c75bc"},{"offset":0.44,"color":"#fff"},{"offset":0.48,"color":"#1c75bc"},{"offset":0.52,"color":"#fff"},{"offset":0.56,"color":"#1c75bc"},{"offset":0.6,"color":"#fff"},{"offset":0.64,"color":"#1c75bc"},{"offset":0.68,"color":"#fff"},{"offset":0.72,"color":"#1c75bc"},{"offset":0.76,"color":"#fff"},{"offset":0.8,"color":"#1c75bc"},{"offset":0.84,"color":"#fff"},{"offset":0.88,"color":"#1c75bc"},{"offset":0.92,"color":"#fff"},{"offset":0.96,"color":"#1c75bc"},{"offset":1,"color":"#fff"}]}},"encoding":{"x":{"field":"i","type":"quantitative","axis":null},"y":{"field":"mean","type":"quantitative"},"y2":{"datum":0}}},
{"data":{"name":"C_bars"},"mark":{"type":"rule","color":"#231f20","strokeWidth":1.2},"encoding":{"x":{"field":"i","type":"quantitative","axis":null},"y":{"field":"mean","type":"quantitative"},"y2":{"field":"hi"}}},
{"data":{"name":"C_bars"},"mark":{"type":"rule","color":"#231f20","strokeWidth":1.5,"xOffset":-4,"x2Offset":4},"encoding":{"x":{"field":"i","type":"quantitative","axis":null},"x2":{"field":"i"},"y":{"field":"hi","type":"quantitative"}}},
{"data":{"name":"C_h"},"mark":{"type":"rule","strokeWidth":1.6},"encoding":{"x":{"field":"a","type":"quantitative","axis":null},"x2":{"field":"b"},"y":{"field":"y","type":"quantitative"},"color":{"field":"cond","type":"nominal","legend":null}}},
{"data":{"name":"C_v"},"mark":{"type":"rule","strokeWidth":1.6},"encoding":{"x":{"field":"x","type":"quantitative","axis":null},"y":{"field":"lo","type":"quantitative"},"y2":{"field":"hi"},"color":{"field":"cond","type":"nominal","legend":null}}},
{"data":{"name":"C_lab"},"transform":[{"filter":"datum.lab=='n.s.'"}],"mark":{"type":"text","font":"Liberation Sans","fontSize":10.5,"baseline":"middle","dy":-6},"encoding":{"x":{"field":"lx","type":"quantitative","axis":null},"y":{"field":"ly","type":"quantitative"},"text":{"field":"lab"},"color":{"field":"cond","type":"nominal","legend":null}}},
{"data":{"name":"C_lab"},"transform":[{"filter":"datum.lab!='n.s.'"}],"mark":{"type":"text","font":"DejaVu Sans","fontSize":11,"baseline":"middle","dy":-7},"encoding":{"x":{"field":"lx","type":"quantitative","axis":null},"y":{"field":"ly","type":"quantitative"},"text":{"field":"lab"},"color":{"field":"cond","type":"nominal","legend":null}}},
{"data":{"name":"C_bars"},"transform":[{"filter":"datum.geno=='c'"}],"mark":{"type":"text","fontSize":11.5,"baseline":"middle"},"encoding":{"x":{"field":"i","type":"quantitative","axis":null},"y":{"datum":-0.477,"type":"quantitative"},"text":{"field":"geno"},"color":{"field":"cond","type":"nominal","legend":null}}},
{"data":{"name":"C_bars"},"transform":[{"filter":"datum.geno=='zfh2'"}],"mark":{"type":"text","fontSize":11.5,"fontStyle":"italic","baseline":"middle"},"encoding":{"x":{"field":"i","type":"quantitative","axis":null},"y":{"datum":-0.477,"type":"quantitative"},"text":{"field":"geno"},"color":{"field":"cond","type":"nominal","legend":null}}},
{"data":{"name":"C_bars"},"mark":{"type":"text","fontSize":13,"baseline":"middle"},"encoding":{"x":{"field":"i","type":"quantitative","axis":null},"y":{"datum":-1.111,"type":"quantitative"},"text":{"field":"pgn"},"color":{"field":"cond","type":"nominal","legend":null}}},
{"data":{"name":"C_sp"},"transform":[{"filter":"datum.lvl==1"}],"mark":{"type":"rule","strokeWidth":1.6,"xOffset":-6.5,"x2Offset":10},"encoding":{"x":{"field":"a","type":"quantitative","axis":null},"x2":{"field":"b"},"y":{"datum":-1.552,"type":"quantitative"},"color":{"field":"cond","type":"nominal","legend":null}}},
{"data":{"name":"C_sp"},"transform":[{"filter":"datum.lvl==2"}],"mark":{"type":"rule","strokeWidth":1.6,"xOffset":-6.5,"x2Offset":10},"encoding":{"x":{"field":"a","type":"quantitative","axis":null},"x2":{"field":"b"},"y":{"datum":-3.462,"type":"quantitative"},"color":{"field":"cond","type":"nominal","legend":null}}},
{"data":{"name":"C_ph"},"mark":{"type":"text","fontSize":12.5,"baseline":"middle"},"encoding":{"x":{"field":"lx","type":"quantitative","axis":null},"y":{"datum":-2.029,"type":"quantitative"},"text":{"field":"lab"},"color":{"field":"cond","type":"nominal","legend":null}}},
{"data":{"values":[{}]},"mark":{"type":"text","fontSize":11,"baseline":"middle","color":"#2b7bc0"},"encoding":{"x":{"datum":7.53,"type":"quantitative","axis":null},"y":{"datum":-2.509,"type":"quantitative"},"text":{"value":"25 mM"}}},
{"data":{"values":[{}]},"mark":{"type":"text","fontSize":11,"baseline":"middle","color":"#2b7bc0"},"encoding":{"x":{"datum":7.55,"type":"quantitative","axis":null},"y":{"datum":-3.047,"type":"quantitative"},"text":{"value":"NaCl"}}},
{"data":{"values":[{}]},"mark":{"type":"text","fontSize":14.5,"baseline":"middle","color":"#231f20"},"encoding":{"x":{"datum":3.74,"type":"quantitative","axis":null},"y":{"datum":-3.943,"type":"quantitative"},"text":{"value":"Air"}}},
{"data":{"values":[{}]},"mark":{"type":"text","fontSize":12.5,"align":"right","baseline":"middle","color":"#231f20"},"encoding":{"x":{"datum":0.164,"type":"quantitative","axis":null},"y":{"datum":-1.111,"type":"quantitative"},"text":{"value":"PGN"}}},
{"data":{"values":[{}]},"mark":{"type":"text","fontSize":12.5,"align":"right","baseline":"middle","color":"#231f20"},"encoding":{"x":{"datum":0.164,"type":"quantitative","axis":null},"y":{"datum":-2.029,"type":"quantitative"},"text":{"value":"pH"}}},
{"data":{"values":[{}]},"mark":{"type":"rule","color":"#231f20","strokeWidth":1.6},"encoding":{"x":{"datum":0.4123,"type":"quantitative","axis":null},"y":{"datum":0,"type":"quantitative"},"y2":{"datum":6}}},
{"data":{"values":[{}]},"mark":{"type":"rule","color":"#231f20","strokeWidth":1.6},"encoding":{"x":{"datum":0.4123,"type":"quantitative","axis":null},"x2":{"datum":8.48},"y":{"datum":0,"type":"quantitative"}}},
{"data":{"values":[{}]},"mark":{"type":"text","fontSize":18,"align":"left","baseline":"middle","color":"#231f20"},"encoding":{"x":{"datum":-1.947,"type":"quantitative","axis":null},"y":{"datum":9.738,"type":"quantitative"},"text":{"value":"C"}}},
{"data":{"values":[{}]},"mark":{"type":"text","fontSize":16.5,"fontStyle":"italic","align":"left","baseline":"middle","color":"#231f20"},"encoding":{"x":{"datum":1.186,"type":"quantitative","axis":null},"y":{"datum":9.441,"type":"quantitative"},"text":{"value":"zfh2"}}},
{"data":{"values":[{}]},"mark":{"type":"text","fontSize":16.5,"align":"left","baseline":"middle","color":"#231f20"},"encoding":{"x":{"datum":2.7,"type":"quantitative","axis":null},"y":{"datum":9.441,"type":"quantitative"},"text":{"value":"RNAi"}}},
{"data":{"values":[{}]},"mark":{"type":"text","fontSize":13,"align":"left","baseline":"middle","color":"#231f20"},"encoding":{"x":{"datum":4.6,"type":"quantitative","axis":null},"y":{"datum":9.441,"type":"quantitative"},"text":{"value":"(striped bars)"}}},
{"data":{"values":[{}]},"mark":{"type":"text","fontSize":16.5,"align":"left","baseline":"middle","color":"#231f20"},"encoding":{"x":{"datum":1.186,"type":"quantitative","axis":null},"y":{"datum":8.724,"type":"quantitative"},"text":{"value":"Control"}}},
{"data":{"values":[{}]},"mark":{"type":"text","fontSize":13,"align":"left","baseline":"middle","color":"#231f20"},"encoding":{"x":{"datum":4.68,"type":"quantitative","axis":null},"y":{"datum":8.724,"type":"quantitative"},"text":{"value":"(solid bars)"}}}
]}
]},
{"spacing": 0, "bounds": "flush", "hconcat": [
{"width": 82, "height": 195, "data": {"values": []}, "mark": "point"},
{"width": 393, "height": 195, "layer": [
{"data":{"name":"D_bars"},"transform":[{"filter":"datum.geno=='c'"}],"mark":{"type":"bar","width":15,"fill":"#808285","xOffset":-8.7},"encoding":{
"x":{"field":"g","type":"quantitative","scale":{"domain":[0.3497,8.411],"nice":false,"zero":false},"axis":null},
"y":{"field":"mean","type":"quantitative","scale":{"domain":[-0.589,16.561],"nice":false,"zero":false},"axis":{"values":[0,5,10,15],"title":["Fold induction in air","(+/− PGN)"],"domain":false,"grid":false,"tickSize":5.5,"tickWidth":1.5,"tickColor":"#231f20","labelFontSize":15,"labelPadding":3,"labelColor":"#231f20","titleFontSize":14,"titleLineHeight":15,"titleFontWeight":"normal","titleColor":"#231f20","titlePadding":7,"titleY":103}},
"y2":{"datum":0}}},
{"data":{"name":"D_bars"},"transform":[{"filter":"datum.geno=='zfh2'"}],"mark":{"type":"bar","width":15,"fill":"#662d91","xOffset":8.7},"encoding":{"x":{"field":"g","type":"quantitative","axis":null},"y":{"field":"mean","type":"quantitative"},"y2":{"datum":0}}},
{"data":{"name":"D_bars"},"transform":[{"filter":"datum.geno=='c'"}],"mark":{"type":"rule","color":"#231f20","strokeWidth":1.2,"xOffset":-8.7},"encoding":{"x":{"field":"g","type":"quantitative","axis":null},"y":{"field":"mean","type":"quantitative"},"y2":{"field":"hi"}}},
{"data":{"name":"D_bars"},"transform":[{"filter":"datum.geno=='zfh2'"}],"mark":{"type":"rule","color":"#231f20","strokeWidth":1.2,"xOffset":8.7},"encoding":{"x":{"field":"g","type":"quantitative","axis":null},"y":{"field":"mean","type":"quantitative"},"y2":{"field":"hi"}}},
{"data":{"name":"D_bars"},"transform":[{"filter":"datum.geno=='c'"}],"mark":{"type":"rule","color":"#231f20","strokeWidth":1.5,"xOffset":-12.7,"x2Offset":-4.7},"encoding":{"x":{"field":"g","type":"quantitative","axis":null},"x2":{"field":"g"},"y":{"field":"hi","type":"quantitative"}}},
{"data":{"name":"D_bars"},"transform":[{"filter":"datum.geno=='zfh2'"}],"mark":{"type":"rule","color":"#231f20","strokeWidth":1.5,"xOffset":4.7,"x2Offset":12.7},"encoding":{"x":{"field":"g","type":"quantitative","axis":null},"x2":{"field":"g"},"y":{"field":"hi","type":"quantitative"}}},
{"data":{"name":"D_sig"},"mark":{"type":"rule","color":"#231f20","strokeWidth":1.4,"xOffset":-8.7,"x2Offset":8.7},"encoding":{"x":{"field":"g","type":"quantitative","axis":null},"x2":{"field":"g"},"y":{"field":"y","type":"quantitative"}}},
{"data":{"name":"D_sig"},"mark":{"type":"rule","color":"#231f20","strokeWidth":1.4,"xOffset":-8.7},"encoding":{"x":{"field":"g","type":"quantitative","axis":null},"y":{"field":"lo","type":"quantitative"},"y2":{"field":"y"}}},
{"data":{"name":"D_sig"},"mark":{"type":"rule","color":"#231f20","strokeWidth":1.4,"xOffset":8.7},"encoding":{"x":{"field":"g","type":"quantitative","axis":null},"y":{"field":"lo","type":"quantitative"},"y2":{"field":"y"}}},
{"data":{"name":"D_sig"},"mark":{"type":"text","font":"Liberation Sans","fontSize":10.5,"baseline":"middle","dy":-6,"color":"#231f20"},"encoding":{"x":{"field":"g","type":"quantitative","axis":null},"y":{"field":"y","type":"quantitative"},"text":{"field":"lab"}}},
{"data":{"name":"D_bars"},"transform":[{"filter":"datum.geno=='c'"}],"mark":{"type":"text","fontSize":11,"fontStyle":"italic","baseline":"middle","dx":-8.7,"color":"#231f20"},"encoding":{"x":{"field":"g","type":"quantitative","axis":null},"y":{"datum":-1.319,"type":"quantitative"},"text":{"field":"geno"}}},
{"data":{"name":"D_bars"},"transform":[{"filter":"datum.geno=='zfh2'"}],"mark":{"type":"text","fontSize":11,"fontStyle":"italic","baseline":"middle","dx":8.7,"color":"#231f20"},"encoding":{"x":{"field":"g","type":"quantitative","axis":null},"y":{"datum":-1.319,"type":"quantitative"},"text":{"field":"geno"}}},
{"data":{"name":"D_bars"},"transform":[{"filter":"datum.geno=='c'"}],"mark":{"type":"rule","color":"#231f20","strokeWidth":1.4,"xOffset":-15,"x2Offset":20},"encoding":{"x":{"field":"g","type":"quantitative","axis":null},"x2":{"field":"g"},"y":{"datum":-2.35,"type":"quantitative"}}},
{"data":{"name":"D_bars"},"transform":[{"filter":"datum.geno=='c'"}],"mark":{"type":"text","fontSize":11,"fontStyle":"italic","baseline":"middle","dx":3,"color":"#231f20"},"encoding":{"x":{"field":"g","type":"quantitative","axis":null},"y":{"datum":-3.23,"type":"quantitative"},"text":{"field":"gene"}}},
{"data":{"values":[{}]},"mark":{"type":"rule","color":"#231f20","strokeWidth":1.6},"encoding":{"x":{"datum":0.3497,"type":"quantitative","axis":null},"y":{"datum":0,"type":"quantitative"},"y2":{"datum":15}}},
{"data":{"values":[{}]},"mark":{"type":"rule","color":"#231f20","strokeWidth":1.6},"encoding":{"x":{"datum":0.3497,"type":"quantitative","axis":null},"x2":{"datum":5.601},"y":{"datum":0,"type":"quantitative"}}},
{"data":{"values":[{}]},"mark":{"type":"text","fontSize":18,"align":"left","baseline":"middle","color":"#231f20"},"encoding":{"x":{"datum":-1.845,"type":"quantitative","axis":null},"y":{"datum":17.13,"type":"quantitative"},"text":{"value":"D"}}}
]},
{"width": 283, "height": 195, "layer": [
{"data":{"name":"E_bars"},"transform":[{"filter":"datum.geno=='c'"}],"mark":{"type":"bar","width":15,"fill":"#808285","xOffset":-9.2},"encoding":{
"x":{"field":"g","type":"quantitative","scale":{"domain":[0.5103,6.357],"nice":false,"zero":false},"axis":null},
"y":{"field":"mean","type":"quantitative","scale":{"domain":[-5.534,155.53],"nice":false,"zero":false},"axis":{"values":[0,50,100,150],"title":"Expression in CO₂ vs. air (%)","domain":false,"grid":false,"tickSize":4.5,"tickWidth":1.5,"tickColor":"#231f20","labelFontSize":15,"labelPadding":1.5,"labelColor":"#231f20","titleFontSize":14,"titleFontWeight":"normal","titleColor":"#231f20","titlePadding":10,"titleY":97}},
"y2":{"datum":0}}},
{"data":{"name":"E_bars"},"transform":[{"filter":"datum.geno=='zfh2'"}],"mark":{"type":"bar","width":15,"fill":"#662d91","xOffset":9.2},"encoding":{"x":{"field":"g","type":"quantitative","axis":null},"y":{"field":"mean","type":"quantitative"},"y2":{"datum":0}}},
{"data":{"name":"E_bars"},"transform":[{"filter":"datum.geno=='c'"}],"mark":{"type":"rule","color":"#231f20","strokeWidth":1.2,"xOffset":-9.2},"encoding":{"x":{"field":"g","type":"quantitative","axis":null},"y":{"field":"mean","type":"quantitative"},"y2":{"field":"hi"}}},
{"data":{"name":"E_bars"},"transform":[{"filter":"datum.geno=='zfh2'"}],"mark":{"type":"rule","color":"#231f20","strokeWidth":1.2,"xOffset":9.2},"encoding":{"x":{"field":"g","type":"quantitative","axis":null},"y":{"field":"mean","type":"quantitative"},"y2":{"field":"hi"}}},
{"data":{"name":"E_bars"},"transform":[{"filter":"datum.geno=='c'"}],"mark":{"type":"rule","color":"#231f20","strokeWidth":1.5,"xOffset":-13.2,"x2Offset":-5.2},"encoding":{"x":{"field":"g","type":"quantitative","axis":null},"x2":{"field":"g"},"y":{"field":"hi","type":"quantitative"}}},
{"data":{"name":"E_bars"},"transform":[{"filter":"datum.geno=='zfh2'"}],"mark":{"type":"rule","color":"#231f20","strokeWidth":1.5,"xOffset":5.2,"x2Offset":13.2},"encoding":{"x":{"field":"g","type":"quantitative","axis":null},"x2":{"field":"g"},"y":{"field":"hi","type":"quantitative"}}},
{"data":{"name":"E_sig"},"mark":{"type":"rule","color":"#231f20","strokeWidth":1.4,"xOffset":-9.2,"x2Offset":9.2},"encoding":{"x":{"field":"g","type":"quantitative","axis":null},"x2":{"field":"g"},"y":{"field":"y","type":"quantitative"}}},
{"data":{"name":"E_sig"},"mark":{"type":"rule","color":"#231f20","strokeWidth":1.4,"xOffset":-9.2},"encoding":{"x":{"field":"g","type":"quantitative","axis":null},"y":{"field":"lo","type":"quantitative"},"y2":{"field":"y"}}},
{"data":{"name":"E_sig"},"mark":{"type":"rule","color":"#231f20","strokeWidth":1.4,"xOffset":9.2},"encoding":{"x":{"field":"g","type":"quantitative","axis":null},"y":{"field":"lo","type":"quantitative"},"y2":{"field":"y"}}},
{"data":{"name":"E_sig"},"transform":[{"filter":"datum.lab=='n.s.'"}],"mark":{"type":"text","font":"Liberation Sans","fontSize":10.5,"baseline":"middle","dy":-6.5,"color":"#231f20"},"encoding":{"x":{"field":"g","type":"quantitative","axis":null},"y":{"field":"y","type":"quantitative"},"text":{"field":"lab"}}},
{"data":{"name":"E_sig"},"transform":[{"filter":"datum.lab!='n.s.'"}],"mark":{"type":"text","font":"DejaVu Sans","fontSize":12,"baseline":"middle","dy":-9,"color":"#231f20"},"encoding":{"x":{"field":"g","type":"quantitative","axis":null},"y":{"field":"y","type":"quantitative"},"text":{"field":"lab"}}},
{"data":{"name":"E_bars"},"transform":[{"filter":"datum.geno=='c'"}],"mark":{"type":"text","fontSize":11,"fontStyle":"italic","baseline":"middle","dx":-9.2,"color":"#231f20"},"encoding":{"x":{"field":"g","type":"quantitative","axis":null},"y":{"datum":-12.39,"type":"quantitative"},"text":{"field":"geno"}}},
{"data":{"name":"E_bars"},"transform":[{"filter":"datum.geno=='zfh2'"}],"mark":{"type":"text","fontSize":11,"fontStyle":"italic","baseline":"middle","dx":9.2,"color":"#231f20"},"encoding":{"x":{"field":"g","type":"quantitative","axis":null},"y":{"datum":-12.39,"type":"quantitative"},"text":{"field":"geno"}}},
{"data":{"name":"E_bars"},"transform":[{"filter":"datum.geno=='c'"}],"mark":{"type":"rule","color":"#231f20","strokeWidth":1.4,"xOffset":-14.5,"x2Offset":20},"encoding":{"x":{"field":"g","type":"quantitative","axis":null},"x2":{"field":"g"},"y":{"datum":-22.05,"type":"quantitative"}}},
{"data":{"name":"E_bars"},"transform":[{"filter":"datum.geno=='c'"}],"mark":{"type":"text","fontSize":11,"fontStyle":"italic","baseline":"middle","dx":2,"color":"#231f20"},"encoding":{"x":{"field":"g","type":"quantitative","axis":null},"y":{"datum":-30.31,"type":"quantitative"},"text":{"field":"gene"}}},
{"data":{"values":[{}]},"mark":{"type":"rule","color":"#231f20","strokeWidth":1.6},"encoding":{"x":{"datum":0.5103,"type":"quantitative","axis":null},"y":{"datum":0,"type":"quantitative"},"y2":{"datum":150}}},
{"data":{"values":[{}]},"mark":{"type":"rule","color":"#231f20","strokeWidth":1.6},"encoding":{"x":{"datum":0.5103,"type":"quantitative","axis":null},"x2":{"datum":5.696},"y":{"datum":0,"type":"quantitative"}}},
{"data":{"values":[{}]},"mark":{"type":"text","fontSize":18,"align":"left","baseline":"middle","color":"#231f20"},"encoding":{"x":{"datum":-1.603,"type":"quantitative","axis":null},"y":{"datum":156.8,"type":"quantitative"},"text":{"value":"E"}}}
]}
]}
]
}
